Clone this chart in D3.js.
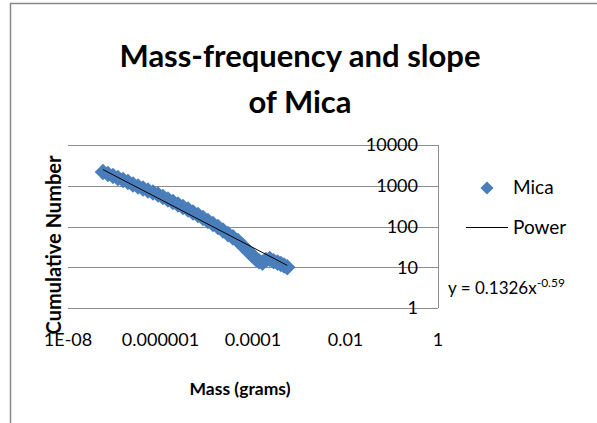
<!DOCTYPE html>
<html>
<head>
<meta charset="utf-8">
<script src="https://cdn.jsdelivr.net/npm/d3@7"></script>
<style>
  body { margin: 0; background: #fff; }
  text { font-family: Lato, "Open Sans", sans-serif; fill: #000; }
</style>
</head>
<body>
<div class="chart"></div>
<script>
// (mass in grams, cumulative count)
var mass = [5.7e-8, 7.3e-8, 9.4e-8, 1.2e-7, 1.55e-7, 1.98e-7, 2.54e-7, 3.27e-7, 4.19e-7, 5.37e-7,
            6.89e-7, 8.83e-7, 1.13e-6, 1.45e-6, 1.86e-6, 2.39e-6, 3.06e-6, 3.93e-6, 5.04e-6, 6.47e-6,
            8.3e-6, 1.06e-5, 1.36e-5, 1.75e-5, 2.24e-5, 2.88e-5, 3.69e-5, 4.74e-5, 6.08e-5, 7.8e-5,
            9.5e-5, 1.16e-4, 1.35e-4, 1.6e-4, 1.9e-4, 2.3e-4, 2.8e-4, 3.4e-4, 4.0e-4, 4.7e-4, 5.5e-4];
var cumulative = [2180, 1940, 1735, 1550, 1385, 1236, 1073, 959, 857, 764,
                  683, 610, 529, 460, 399, 347, 301, 261, 221, 191,
                  162, 136, 115, 97, 80, 65, 54, 44, 33, 25,
                  20, 16, 14, 13, 15, 16, 14, 13, 12, 11, 10];

var xTicks = [1e-8, 1e-6, 1e-4, 1e-2, 1];
var xTickLabels = ["1E-08", "0.000001", "0.0001", "0.01", "1"];
var yTicks = [1, 10, 100, 1000, 10000];

// power trend line y = a * x^b
var trendA = 0.1326, trendB = -0.59;

function MicaChart() {
    var W = 597, H = 423;
    var pl = 68, pr = 438, pt = 145, pb = 308;

    var svg = d3.select(".chart").append("svg")
        .attr("width", W)
        .attr("height", H);

    // chart frame (only left and top edges are in view)
    svg.append("path")
        .attr("d", "M10.5," + H + "V3.5H" + W)
        .attr("fill", "none")
        .attr("stroke", "#878787")
        .attr("stroke-width", 1.5);

    var x = d3.scaleLog().domain([1e-8, 1]).range([pl, pr]);
    var y = d3.scaleLog().domain([1, 10000]).range([pb, pt]);

    // gridlines
    svg.append("g").selectAll("line")
        .data(yTicks)
        .enter().append("line")
        .attr("x1", pl)
        .attr("x2", pr)
        .attr("y1", function(d) { return Math.round(y(d)) + 0.5; })
        .attr("y2", function(d) { return Math.round(y(d)) + 0.5; })
        .attr("stroke", "#8c8c8c")
        .attr("stroke-width", 1);

    // vertical axis sits at x = 1 (right edge)
    svg.append("line")
        .attr("x1", Math.round(x(1)) + 0.5)
        .attr("x2", Math.round(x(1)) + 0.5)
        .attr("y1", pt)
        .attr("y2", pb)
        .attr("stroke", "#8c8c8c");

    // y tick labels drawn over the gridlines, as in the original
    svg.append("g").selectAll("text")
        .data(yTicks)
        .enter().append("text")
        .attr("x", pr - 20)
        .attr("y", function(d) { return y(d); })
        .attr("dy", "0.35em")
        .attr("text-anchor", "end")
        .style("font-size", "18px")
        .text(function(d) { return d; });

    // x tick labels
    svg.append("g").selectAll("text")
        .data(xTicks)
        .enter().append("text")
        .attr("x", function(d) { return x(d); })
        .attr("y", 340)
        .attr("dy", "0.35em")
        .attr("text-anchor", "middle")
        .style("font-size", "18px")
        .text(function(d, i) { return xTickLabels[i]; });

    // trend line across the data range
    var xr = d3.extent(mass);
    var trend = [xr[0], xr[1]].map(function(m) { return {x: m, y: trendA * Math.pow(m, trendB)}; });

    var line = d3.line()
        .x(function(d) { return x(d.x); })
        .y(function(d) { return y(d.y); });

    // markers
    var diamond = d3.symbol().type(d3.symbolDiamond2).size(175);
    svg.append("g").selectAll("path")
        .data(mass)
        .enter().append("path")
        .attr("d", diamond)
        .attr("transform", function(d, i) { return "translate(" + x(d) + "," + y(cumulative[i]) + ")"; })
        .attr("fill", "#4a7ebb");

    svg.append("path")
        .attr("d", line(trend))
        .attr("fill", "none")
        .attr("stroke", "#000")
        .attr("stroke-width", 1);

    // titles
    var title = svg.append("text")
        .attr("text-anchor", "middle")
        .style("font-size", "31px")
        .style("font-weight", "bold");
    title.append("tspan").attr("x", 300).attr("y", 67).text("Mass-frequency and slope");
    title.append("tspan").attr("x", 300).attr("y", 113).text("of Mica");

    svg.append("text")
        .attr("transform", "translate(61,245) rotate(-90)")
        .attr("text-anchor", "middle")
        .style("font-size", "20px")
        .style("font-weight", "bold")
        .text("Cumulative Number");

    svg.append("text")
        .attr("x", 240)
        .attr("y", 395)
        .attr("text-anchor", "middle")
        .style("font-size", "17.5px")
        .style("font-weight", "bold")
        .text("Mass (grams)");

    // legend
    svg.append("path")
        .attr("d", d3.symbol().type(d3.symbolDiamond2).size(110))
        .attr("transform", "translate(487,188)")
        .attr("fill", "#4a7ebb");
    svg.append("text")
        .attr("x", 513).attr("y", 194)
        .style("font-size", "19px")
        .text("Mica");
    svg.append("line")
        .attr("x1", 466).attr("x2", 508)
        .attr("y1", 227.5).attr("y2", 227.5)
        .attr("stroke", "#000");
    svg.append("text")
        .attr("x", 513).attr("y", 234)
        .style("font-size", "19px")
        .text("Power");

    var eq = svg.append("text")
        .attr("x", 448).attr("y", 294)
        .style("font-size", "17px");
    eq.append("tspan").text("y = " + trendA + "x");
    eq.append("tspan").attr("dy", -7).style("font-size", "12px").text(trendB);
}

MicaChart();
</script>
</body>
</html>
